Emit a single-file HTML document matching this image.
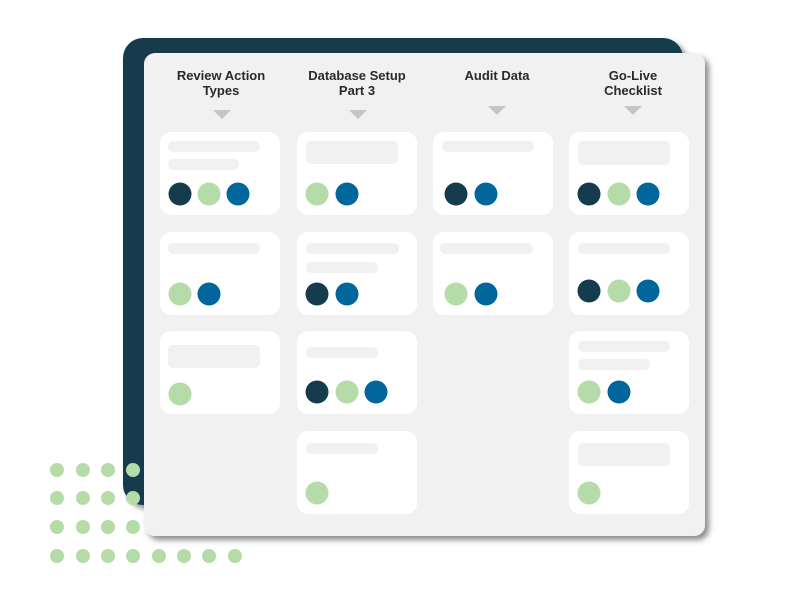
<!DOCTYPE html>
<html><head><meta charset="utf-8"><style>
html,body{margin:0;padding:0;background:#fff;width:800px;height:600px;overflow:hidden}
text{font-family:"Liberation Sans",sans-serif;font-weight:bold;font-size:13px;fill:#2a2a2a}
</style></head><body>
<svg width="800" height="600" viewBox="0 0 800 600" xmlns="http://www.w3.org/2000/svg">
<defs>
<filter id="sh" x="-10%" y="-10%" width="130%" height="130%"><feDropShadow dx="4" dy="4" stdDeviation="3" flood-color="#000" flood-opacity="0.45"/></filter>
</defs>
<rect x="123" y="38" width="560" height="467" rx="20" fill="#163b4e" filter="url(#sh)"/>
<g fill="#b5dba8">
<circle cx="57" cy="470" r="7"/><circle cx="83" cy="470" r="7"/><circle cx="108" cy="470" r="7"/><circle cx="133" cy="470" r="7"/>
<circle cx="57" cy="498" r="7"/><circle cx="83" cy="498" r="7"/><circle cx="108" cy="498" r="7"/><circle cx="133" cy="498" r="7"/>
<circle cx="57" cy="527" r="7"/><circle cx="83" cy="527" r="7"/><circle cx="108" cy="527" r="7"/><circle cx="133" cy="527" r="7"/>
<circle cx="57" cy="556" r="7"/><circle cx="83" cy="556" r="7"/><circle cx="108" cy="556" r="7"/><circle cx="133" cy="556" r="7"/>
<circle cx="159" cy="556" r="7"/><circle cx="184" cy="556" r="7"/><circle cx="209" cy="556" r="7"/><circle cx="235" cy="556" r="7"/>
</g>
<rect x="144" y="53" width="561" height="483" rx="11" fill="#f0f1f0" filter="url(#sh)"/>
<g text-anchor="middle">
<text x="221" y="80">Review Action</text><text x="221" y="95">Types</text>
<text x="357" y="80">Database Setup</text><text x="357" y="95">Part 3</text>
<text x="497" y="80">Audit Data</text>
<text x="633" y="80">Go-Live</text><text x="633" y="95">Checklist</text>
</g>
<g fill="#c3c5c6">
<path d="M213 110h18l-9 9z"/><path d="M349 110h18l-9 9z"/><path d="M488 106h18l-9 9z"/><path d="M624 106h18l-9 9z"/>
</g>
<g fill="#fff">
<rect x="160" y="132" width="120" height="83" rx="11"/><rect x="160" y="232" width="120" height="83" rx="11"/><rect x="160" y="331" width="120" height="83" rx="11"/>
<rect x="297" y="132" width="120" height="83" rx="11"/><rect x="297" y="232" width="120" height="83" rx="11"/><rect x="297" y="331" width="120" height="83" rx="11"/><rect x="297" y="431" width="120" height="83" rx="11"/>
<rect x="433" y="132" width="120" height="83" rx="11"/><rect x="433" y="232" width="120" height="83" rx="11"/>
<rect x="569" y="132" width="120" height="83" rx="11"/><rect x="569" y="232" width="120" height="83" rx="11"/><rect x="569" y="331" width="120" height="83" rx="11"/><rect x="569" y="431" width="120" height="83" rx="11"/>
</g>
<g fill="#f0f1f0">
<rect x="168" y="141" width="92" height="11" rx="5"/><rect x="168" y="159" width="71" height="11" rx="5"/>
<rect x="168" y="243" width="92" height="11" rx="5"/>
<rect x="168" y="345" width="92" height="23" rx="5"/>
<rect x="306" y="141" width="92" height="23" rx="5"/>
<rect x="306" y="243" width="93" height="11" rx="5"/><rect x="306" y="262" width="72" height="11" rx="5"/>
<rect x="306" y="347" width="72" height="11" rx="5"/>
<rect x="306" y="443" width="72" height="11" rx="5"/>
<rect x="442" y="141" width="92" height="11" rx="5"/>
<rect x="440" y="243" width="93" height="11" rx="5"/>
<rect x="578" y="141" width="92" height="24" rx="5"/>
<rect x="578" y="243" width="92" height="11" rx="5"/>
<rect x="578" y="341" width="92" height="11" rx="5"/><rect x="578" y="359" width="72" height="11" rx="5"/>
<rect x="578" y="443" width="92" height="23" rx="5"/>
</g>
<g>
<circle cx="180" cy="194" r="11.5" fill="#163b4e"/><circle cx="209" cy="194" r="11.5" fill="#b5dba8"/><circle cx="238" cy="194" r="11.5" fill="#00669b"/>
<circle cx="180" cy="294" r="11.5" fill="#b5dba8"/><circle cx="209" cy="294" r="11.5" fill="#00669b"/>
<circle cx="180" cy="394" r="11.5" fill="#b5dba8"/>
<circle cx="317" cy="194" r="11.5" fill="#b5dba8"/><circle cx="347" cy="194" r="11.5" fill="#00669b"/>
<circle cx="317" cy="294" r="11.5" fill="#163b4e"/><circle cx="347" cy="294" r="11.5" fill="#00669b"/>
<circle cx="317" cy="392" r="11.5" fill="#163b4e"/><circle cx="347" cy="392" r="11.5" fill="#b5dba8"/><circle cx="376" cy="392" r="11.5" fill="#00669b"/>
<circle cx="317" cy="493" r="11.5" fill="#b5dba8"/>
<circle cx="456" cy="194" r="11.5" fill="#163b4e"/><circle cx="486" cy="194" r="11.5" fill="#00669b"/>
<circle cx="456" cy="294" r="11.5" fill="#b5dba8"/><circle cx="486" cy="294" r="11.5" fill="#00669b"/>
<circle cx="589" cy="194" r="11.5" fill="#163b4e"/><circle cx="619" cy="194" r="11.5" fill="#b5dba8"/><circle cx="648" cy="194" r="11.5" fill="#00669b"/>
<circle cx="589" cy="291" r="11.5" fill="#163b4e"/><circle cx="619" cy="291" r="11.5" fill="#b5dba8"/><circle cx="648" cy="291" r="11.5" fill="#00669b"/>
<circle cx="589" cy="392" r="11.5" fill="#b5dba8"/><circle cx="619" cy="392" r="11.5" fill="#00669b"/>
<circle cx="589" cy="493" r="11.5" fill="#b5dba8"/>
</g>
</svg>
</body></html>
